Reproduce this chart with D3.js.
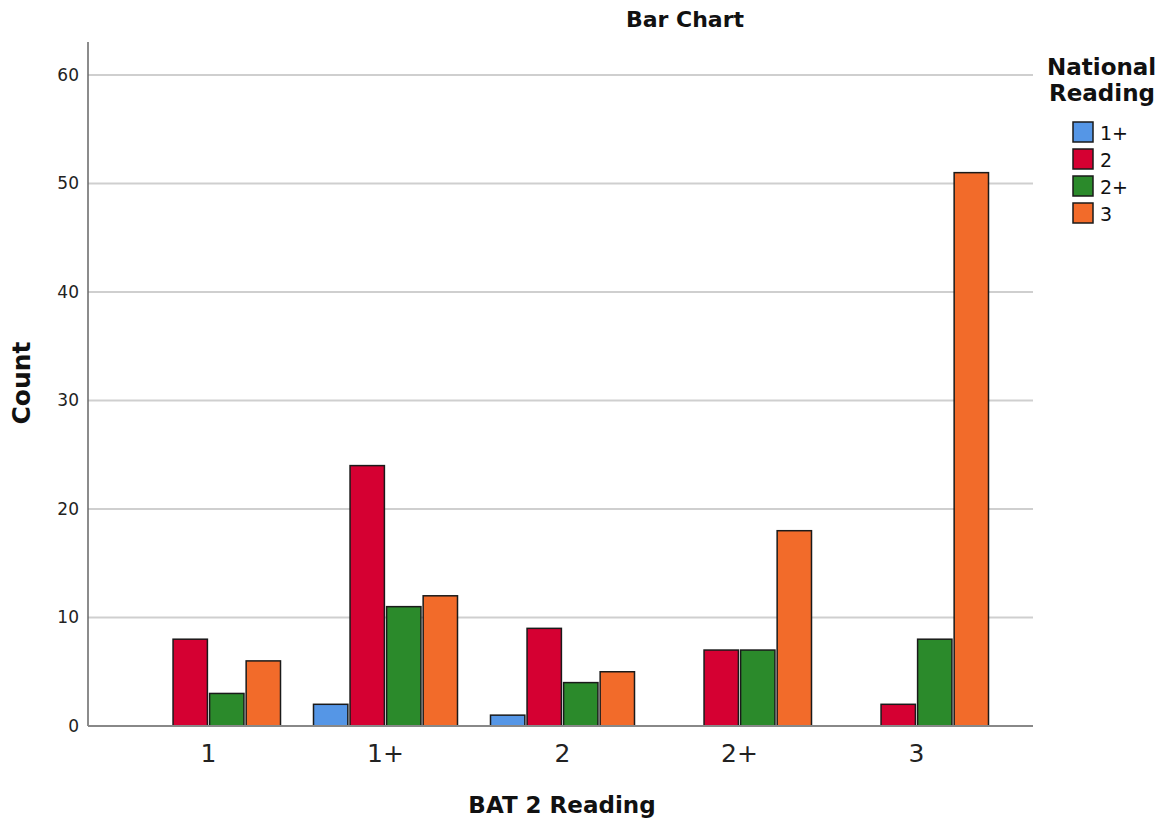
<!DOCTYPE html>
<html><head><meta charset="utf-8">
<script src="https://cdn.jsdelivr.net/npm/d3@7"></script>
<style>body{margin:0;background:#fff;} text{font-family:"DejaVu Sans",sans-serif;}</style>
</head><body>
<svg id="c" width="1164" height="825"></svg>
<script>
const categories = ["1","1+","2","2+","3"];
const seriesNames = ["1+","2","2+","3"];
const seriesColors = ["#5596e6","#d50032","#2b8a2b","#f26b2a"];
const s_1plus = [0,2,1,0,0];
const s_2 = [8,24,9,7,2];
const s_2plus = [3,11,4,7,8];
const s_3 = [6,12,5,18,51];
const yTicks = [0,10,20,30,40,50,60];
const seriesValues = [s_1plus,s_2,s_2plus,s_3];

const svg = d3.select("#c");
const pLeft = 88, pRight = 1033, pTop = 42, pBottom = 726;
const x = d3.scaleBand().domain(categories).range([120,1005]);
const xs = d3.scaleBand().domain(seriesNames).range([-72,72]).paddingInner(0.06);
const y = d3.scaleLinear().domain([0,60]).range([pBottom,75]);

// gridlines
svg.append("g").selectAll("line").data(yTicks.filter(d=>d>0)).join("line")
  .attr("x1",pLeft).attr("x2",pRight).attr("y1",d=>y(d)).attr("y2",d=>y(d))
  .attr("stroke","#cfcfcf").attr("stroke-width",2);

// y axis
const ya = svg.append("g").attr("transform",`translate(${pLeft},0)`)
  .call(d3.axisLeft(y).tickValues(yTicks).tickSize(0).tickPadding(9));
ya.select(".domain").remove();
ya.selectAll("text").attr("font-size",17).attr("fill","#222").attr("font-family","DejaVu Sans");
svg.append("line").attr("x1",pLeft).attr("x2",pLeft).attr("y1",pTop).attr("y2",pBottom).attr("stroke","#666").attr("stroke-width",1.5);

// bars
const groups = svg.append("g").selectAll("g").data(categories).join("g")
  .attr("transform",d=>`translate(${x(d)+x.bandwidth()/2},0)`);
groups.selectAll("rect").data((c,i)=>seriesNames.map((s,j)=>({s,j,v:seriesValues[j][i]})).filter(d=>d.v>0))
  .join("rect")
  .attr("x",d=>xs(d.s)).attr("width",xs.bandwidth())
  .attr("y",d=>y(d.v)).attr("height",d=>y(0)-y(d.v))
  .attr("fill",d=>seriesColors[d.j]).attr("stroke","#1a1a1a").attr("stroke-width",1.5);

// x axis
const xa = svg.append("g").attr("transform",`translate(0,${pBottom})`)
  .call(d3.axisBottom(x).tickSize(0).tickPadding(18));
xa.select(".domain").remove();
xa.selectAll("text").attr("font-size",25).attr("fill","#222").attr("font-family","DejaVu Sans");
svg.append("line").attr("x1",pLeft).attr("x2",pRight).attr("y1",pBottom).attr("y2",pBottom).attr("stroke","#888").attr("stroke-width",2);

// titles
svg.append("text").attr("x",685).attr("y",27).attr("text-anchor","middle")
  .attr("font-size",22).attr("font-weight","bold").attr("fill","#111").text("Bar Chart");
svg.append("text").attr("x",562).attr("y",813).attr("text-anchor","middle")
  .attr("font-size",23).attr("font-weight","bold").attr("fill","#111").text("BAT 2 Reading");
svg.append("text").attr("transform","translate(30,383) rotate(-90)").attr("text-anchor","middle")
  .attr("font-size",25).attr("font-weight","bold").attr("fill","#111").text("Count");

// legend
const lg = svg.append("g");
lg.append("text").attr("x",1047).attr("y",75).attr("font-size",23).attr("font-weight","bold").attr("fill","#111").text("National");
lg.append("text").attr("x",1049).attr("y",101).attr("font-size",23).attr("font-weight","bold").attr("fill","#111").text("Reading");
const li = lg.selectAll("g.it").data(seriesNames).join("g").attr("class","it")
  .attr("transform",(d,i)=>`translate(1073,${122+i*27})`);
li.append("rect").attr("width",20).attr("height",20).attr("fill",(d,i)=>seriesColors[i]).attr("stroke","#1a1a1a").attr("stroke-width",1.5);
li.append("text").attr("x",27).attr("y",18).attr("font-size",19).attr("fill","#111").text(d=>d);
</script>
</body></html>
